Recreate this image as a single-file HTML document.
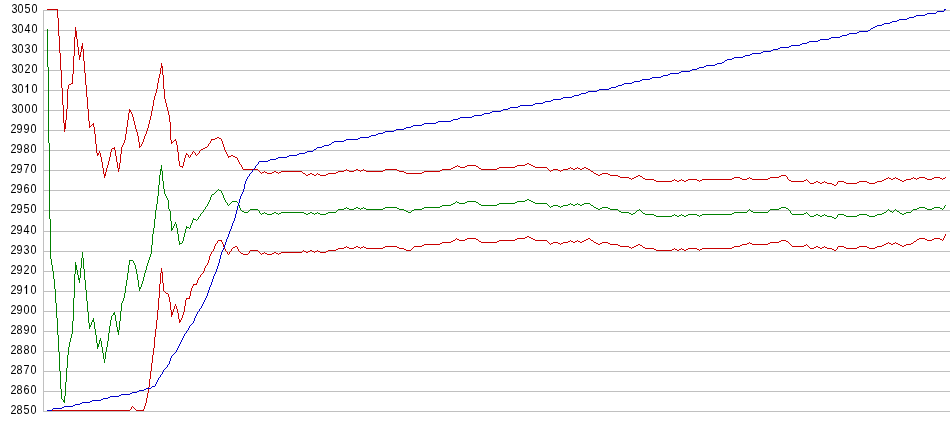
<!DOCTYPE html><html><head><meta charset="utf-8"><style>html,body{margin:0;padding:0;background:#fff;width:950px;height:435px;overflow:hidden}svg{display:block}</style></head><body>
<svg width="950" height="435" viewBox="0 0 950 435">
<rect width="950" height="435" fill="#fff"/>
<path d="M43 10.5H950 M43 30.5H950 M43 50.5H950 M43 70.5H950 M43 90.5H950 M43 110.5H950 M43 130.5H950 M43 150.5H950 M43 170.5H950 M43 190.5H950 M43 210.5H950 M43 231.5H950 M43 251.5H950 M43 271.5H950 M43 291.5H950 M43 311.5H950 M43 331.5H950 M43 351.5H950 M43 371.5H950 M43 391.5H950 M43 411.5H950 M43.5 10V412" stroke="#c0c0c0" stroke-width="1" fill="none" shape-rendering="crispEdges"/>
<g font-family="Liberation Sans, sans-serif" font-size="12" fill="#000" text-anchor="middle" style="will-change:transform">
<text transform="scale(0.9,1)" x="16.111 22.778 30.556 38.333" y="13">3050</text>
<text transform="scale(0.9,1)" x="16.111 22.778 30.556 38.333" y="33">3040</text>
<text transform="scale(0.9,1)" x="16.111 22.778 30.556 38.333" y="53">3030</text>
<text transform="scale(0.9,1)" x="16.111 22.778 30.556 38.333" y="73">3020</text>
<text transform="scale(0.9,1)" x="16.111 22.778 30.556 38.333" y="93">30 0</text>
<text transform="scale(0.9,1)" x="16.111 22.778 30.556 38.333" y="113">3000</text>
<text transform="scale(0.9,1)" x="15.000 21.667 29.444 37.222" y="133">2990</text>
<text transform="scale(0.9,1)" x="15.000 21.667 29.444 37.222" y="153">2980</text>
<text transform="scale(0.9,1)" x="15.000 21.667 29.444 37.222" y="173">2970</text>
<text transform="scale(0.9,1)" x="15.000 21.667 29.444 37.222" y="193">2960</text>
<text transform="scale(0.9,1)" x="15.000 21.667 29.444 37.222" y="213">2950</text>
<text transform="scale(0.9,1)" x="15.000 21.667 29.444 37.222" y="234">2940</text>
<text transform="scale(0.9,1)" x="15.000 21.667 29.444 37.222" y="254">2930</text>
<text transform="scale(0.9,1)" x="15.000 21.667 29.444 37.222" y="274">2920</text>
<text transform="scale(0.9,1)" x="15.000 21.667 29.444 37.222" y="294">29 0</text>
<text transform="scale(0.9,1)" x="15.000 21.667 29.444 37.222" y="314">2900</text>
<text transform="scale(0.9,1)" x="15.000 21.667 29.444 37.222" y="334">2890</text>
<text transform="scale(0.9,1)" x="15.000 21.667 29.444 37.222" y="354">2880</text>
<text transform="scale(0.9,1)" x="15.000 21.667 29.444 37.222" y="374">2870</text>
<text transform="scale(0.9,1)" x="15.000 21.667 29.444 37.222" y="394">2860</text>
<text transform="scale(0.9,1)" x="15.000 21.667 29.444 37.222" y="414">2850</text>
<path d="M26.95 84h1.15v9h-1.15z M25.3 86.8L27.4 84.7l0.5 0.75L25.8 87.5z M25.95 285h1.15v9h-1.15z M24.3 287.8L26.4 285.7l0.5 0.75L24.8 288.5z" fill="#000"/>
</g>
<g shape-rendering="crispEdges">
<path fill="#c80000" d="M945 234h1v1h-1zM945 235h1v1h-1zM527 236h2v1h-2zM944 236h1v1h-1zM525 237h2v1h-2zM529 237h2v1h-2zM944 237h1v1h-1zM456 238h1v1h-1zM467 238h9v1h-9zM517 238h8v1h-8zM531 238h2v1h-2zM588 238h2v1h-2zM919 238h6v1h-6zM934 238h6v1h-6zM943 238h1v1h-1zM455 239h1v1h-1zM457 239h2v1h-2zM465 239h2v1h-2zM476 239h2v1h-2zM515 239h2v1h-2zM533 239h2v1h-2zM586 239h2v1h-2zM590 239h1v1h-1zM917 239h2v1h-2zM925 239h2v1h-2zM932 239h2v1h-2zM940 239h2v1h-2zM943 239h1v1h-1zM218 240h4v1h-4zM453 240h2v1h-2zM459 240h6v1h-6zM478 240h1v1h-1zM499 240h16v1h-16zM535 240h12v1h-12zM570 240h1v1h-1zM577 240h1v1h-1zM584 240h2v1h-2zM591 240h2v1h-2zM781 240h5v1h-5zM916 240h1v1h-1zM927 240h5v1h-5zM942 240h1v1h-1zM217 241h1v1h-1zM221 241h1v1h-1zM451 241h2v1h-2zM479 241h2v1h-2zM497 241h2v1h-2zM547 241h1v1h-1zM568 241h2v1h-2zM571 241h2v1h-2zM575 241h2v1h-2zM578 241h2v1h-2zM582 241h2v1h-2zM593 241h1v1h-1zM779 241h2v1h-2zM786 241h2v1h-2zM914 241h2v1h-2zM217 242h1v1h-1zM222 242h1v1h-1zM442 242h9v1h-9zM481 242h16v1h-16zM548 242h1v1h-1zM553 242h5v1h-5zM563 242h5v1h-5zM573 242h2v1h-2zM580 242h2v1h-2zM594 242h2v1h-2zM602 242h6v1h-6zM749 242h1v1h-1zM770 242h9v1h-9zM788 242h1v1h-1zM888 242h1v1h-1zM895 242h1v1h-1zM913 242h1v1h-1zM216 243h1v1h-1zM222 243h1v1h-1zM440 243h2v1h-2zM549 243h1v1h-1zM551 243h2v1h-2zM558 243h2v1h-2zM561 243h2v1h-2zM596 243h2v1h-2zM600 243h2v1h-2zM608 243h2v1h-2zM747 243h2v1h-2zM750 243h2v1h-2zM768 243h2v1h-2zM789 243h1v1h-1zM886 243h2v1h-2zM889 243h2v1h-2zM893 243h2v1h-2zM896 243h2v1h-2zM911 243h2v1h-2zM215 244h1v1h-1zM223 244h1v1h-1zM424 244h16v1h-16zM550 244h1v1h-1zM560 244h1v1h-1zM598 244h2v1h-2zM610 244h8v1h-8zM638 244h2v1h-2zM742 244h5v1h-5zM752 244h16v1h-16zM790 244h1v1h-1zM806 244h1v1h-1zM884 244h2v1h-2zM891 244h2v1h-2zM898 244h2v1h-2zM906 244h5v1h-5zM215 245h1v1h-1zM223 245h1v1h-1zM422 245h2v1h-2zM618 245h2v1h-2zM636 245h2v1h-2zM640 245h2v1h-2zM740 245h2v1h-2zM791 245h1v1h-1zM804 245h2v1h-2zM807 245h1v1h-1zM882 245h2v1h-2zM900 245h2v1h-2zM904 245h2v1h-2zM214 246h1v1h-1zM223 246h1v1h-1zM235 246h2v1h-2zM346 246h1v1h-1zM356 246h2v1h-2zM363 246h1v1h-1zM385 246h12v1h-12zM414 246h8v1h-8zM620 246h9v1h-9zM634 246h2v1h-2zM642 246h1v1h-1zM734 246h6v1h-6zM792 246h12v1h-12zM808 246h1v1h-1zM816 246h2v1h-2zM824 246h1v1h-1zM838 246h6v1h-6zM859 246h8v1h-8zM877 246h5v1h-5zM902 246h2v1h-2zM214 247h1v1h-1zM224 247h1v1h-1zM233 247h2v1h-2zM237 247h1v1h-1zM344 247h2v1h-2zM347 247h2v1h-2zM354 247h2v1h-2zM358 247h2v1h-2zM361 247h2v1h-2zM364 247h2v1h-2zM383 247h2v1h-2zM397 247h2v1h-2zM413 247h1v1h-1zM629 247h2v1h-2zM632 247h2v1h-2zM643 247h2v1h-2zM732 247h2v1h-2zM809 247h1v1h-1zM814 247h2v1h-2zM818 247h2v1h-2zM822 247h2v1h-2zM825 247h2v1h-2zM837 247h1v1h-1zM844 247h2v1h-2zM857 247h2v1h-2zM867 247h2v1h-2zM875 247h2v1h-2zM214 248h1v1h-1zM224 248h1v1h-1zM232 248h1v1h-1zM237 248h1v1h-1zM338 248h6v1h-6zM349 248h5v1h-5zM360 248h1v1h-1zM366 248h17v1h-17zM399 248h5v1h-5zM412 248h1v1h-1zM631 248h1v1h-1zM645 248h9v1h-9zM674 248h1v1h-1zM681 248h1v1h-1zM688 248h9v1h-9zM702 248h30v1h-30zM810 248h4v1h-4zM820 248h2v1h-2zM827 248h5v1h-5zM837 248h1v1h-1zM846 248h11v1h-11zM869 248h6v1h-6zM213 249h1v1h-1zM225 249h1v1h-1zM231 249h1v1h-1zM238 249h1v1h-1zM336 249h2v1h-2zM404 249h2v1h-2zM411 249h1v1h-1zM654 249h2v1h-2zM672 249h2v1h-2zM675 249h2v1h-2zM679 249h2v1h-2zM682 249h2v1h-2zM686 249h2v1h-2zM697 249h2v1h-2zM700 249h2v1h-2zM832 249h2v1h-2zM836 249h1v1h-1zM213 250h1v1h-1zM225 250h1v1h-1zM231 250h1v1h-1zM238 250h1v1h-1zM250 250h8v1h-8zM303 250h1v1h-1zM310 250h2v1h-2zM317 250h1v1h-1zM328 250h8v1h-8zM406 250h5v1h-5zM656 250h16v1h-16zM677 250h2v1h-2zM684 250h2v1h-2zM699 250h1v1h-1zM834 250h2v1h-2zM212 251h1v1h-1zM226 251h1v1h-1zM230 251h1v1h-1zM239 251h1v1h-1zM249 251h1v1h-1zM258 251h1v1h-1zM302 251h1v1h-1zM304 251h2v1h-2zM308 251h2v1h-2zM312 251h2v1h-2zM315 251h2v1h-2zM318 251h2v1h-2zM326 251h2v1h-2zM211 252h1v1h-1zM227 252h1v1h-1zM229 252h1v1h-1zM240 252h1v1h-1zM249 252h1v1h-1zM259 252h1v1h-1zM264 252h1v1h-1zM274 252h2v1h-2zM281 252h21v1h-21zM306 252h2v1h-2zM314 252h1v1h-1zM320 252h6v1h-6zM211 253h1v1h-1zM227 253h1v1h-1zM229 253h1v1h-1zM241 253h2v1h-2zM248 253h1v1h-1zM260 253h1v1h-1zM262 253h2v1h-2zM265 253h2v1h-2zM272 253h2v1h-2zM276 253h2v1h-2zM279 253h2v1h-2zM210 254h1v1h-1zM228 254h1v1h-1zM243 254h5v1h-5zM261 254h1v1h-1zM267 254h5v1h-5zM278 254h1v1h-1zM210 255h1v1h-1zM209 256h1v1h-1zM209 257h1v1h-1zM209 258h1v1h-1zM209 259h1v1h-1zM208 260h1v1h-1zM208 261h1v1h-1zM208 262h1v1h-1zM207 263h1v1h-1zM207 264h1v1h-1zM206 265h1v1h-1zM205 266h1v1h-1zM205 267h1v1h-1zM161 268h1v1h-1zM204 268h1v1h-1zM161 269h1v1h-1zM204 269h1v1h-1zM161 270h1v1h-1zM204 270h1v1h-1zM161 271h1v1h-1zM203 271h1v1h-1zM161 272h2v1h-2zM203 272h1v1h-1zM160 273h1v1h-1zM162 273h1v1h-1zM202 273h1v1h-1zM160 274h1v1h-1zM162 274h1v1h-1zM201 274h1v1h-1zM160 275h1v1h-1zM162 275h1v1h-1zM200 275h1v1h-1zM160 276h1v1h-1zM162 276h1v1h-1zM200 276h1v1h-1zM160 277h1v1h-1zM162 277h1v1h-1zM199 277h1v1h-1zM160 278h1v1h-1zM162 278h1v1h-1zM198 278h1v1h-1zM160 279h1v1h-1zM162 279h1v1h-1zM198 279h1v1h-1zM160 280h1v1h-1zM162 280h1v1h-1zM197 280h1v1h-1zM160 281h1v1h-1zM162 281h1v1h-1zM197 281h1v1h-1zM160 282h1v1h-1zM162 282h1v1h-1zM197 282h1v1h-1zM160 283h1v1h-1zM163 283h1v1h-1zM196 283h1v1h-1zM159 284h1v1h-1zM163 284h1v1h-1zM193 284h4v1h-4zM159 285h1v1h-1zM163 285h1v1h-1zM193 285h1v1h-1zM159 286h1v1h-1zM163 286h1v1h-1zM192 286h1v1h-1zM159 287h1v1h-1zM163 287h1v1h-1zM192 287h1v1h-1zM159 288h1v1h-1zM163 288h1v1h-1zM191 288h1v1h-1zM159 289h1v1h-1zM163 289h1v1h-1zM191 289h1v1h-1zM159 290h1v1h-1zM163 290h1v1h-1zM191 290h1v1h-1zM159 291h1v1h-1zM164 291h1v1h-1zM190 291h1v1h-1zM159 292h1v1h-1zM165 292h1v1h-1zM190 292h1v1h-1zM159 293h1v1h-1zM166 293h2v1h-2zM190 293h1v1h-1zM159 294h1v1h-1zM168 294h1v1h-1zM190 294h1v1h-1zM159 295h1v1h-1zM168 295h1v1h-1zM190 295h1v1h-1zM159 296h1v1h-1zM168 296h1v1h-1zM189 296h1v1h-1zM159 297h1v1h-1zM169 297h1v1h-1zM189 297h1v1h-1zM158 298h1v1h-1zM169 298h1v1h-1zM186 298h4v1h-4zM158 299h1v1h-1zM169 299h1v1h-1zM186 299h1v1h-1zM158 300h1v1h-1zM169 300h1v1h-1zM185 300h1v1h-1zM158 301h1v1h-1zM169 301h1v1h-1zM185 301h1v1h-1zM158 302h1v1h-1zM170 302h1v1h-1zM185 302h1v1h-1zM158 303h1v1h-1zM170 303h1v1h-1zM185 303h1v1h-1zM158 304h1v1h-1zM170 304h1v1h-1zM175 304h1v1h-1zM185 304h1v1h-1zM158 305h1v1h-1zM170 305h1v1h-1zM175 305h1v1h-1zM185 305h1v1h-1zM158 306h1v1h-1zM170 306h1v1h-1zM174 306h1v1h-1zM176 306h1v1h-1zM184 306h1v1h-1zM158 307h1v1h-1zM170 307h1v1h-1zM174 307h1v1h-1zM176 307h1v1h-1zM184 307h1v1h-1zM158 308h1v1h-1zM170 308h1v1h-1zM174 308h1v1h-1zM176 308h1v1h-1zM184 308h1v1h-1zM158 309h1v1h-1zM170 309h1v1h-1zM173 309h1v1h-1zM177 309h1v1h-1zM184 309h1v1h-1zM157 310h1v1h-1zM171 310h1v1h-1zM173 310h1v1h-1zM177 310h1v1h-1zM184 310h1v1h-1zM157 311h1v1h-1zM171 311h1v1h-1zM173 311h1v1h-1zM177 311h1v1h-1zM184 311h1v1h-1zM157 312h1v1h-1zM171 312h2v1h-2zM177 312h1v1h-1zM183 312h1v1h-1zM157 313h1v1h-1zM171 313h2v1h-2zM178 313h1v1h-1zM183 313h1v1h-1zM157 314h1v1h-1zM171 314h2v1h-2zM178 314h1v1h-1zM183 314h1v1h-1zM157 315h1v1h-1zM171 315h1v1h-1zM178 315h1v1h-1zM182 315h1v1h-1zM157 316h1v1h-1zM171 316h1v1h-1zM178 316h1v1h-1zM182 316h1v1h-1zM157 317h1v1h-1zM178 317h1v1h-1zM182 317h1v1h-1zM157 318h1v1h-1zM178 318h1v1h-1zM181 318h1v1h-1zM157 319h1v1h-1zM179 319h1v1h-1zM181 319h1v1h-1zM156 320h1v1h-1zM179 320h2v1h-2zM156 321h1v1h-1zM179 321h2v1h-2zM156 322h1v1h-1zM179 322h1v1h-1zM156 323h1v1h-1zM156 324h1v1h-1zM156 325h1v1h-1zM156 326h1v1h-1zM156 327h1v1h-1zM156 328h1v1h-1zM155 329h1v1h-1zM155 330h1v1h-1zM155 331h1v1h-1zM155 332h1v1h-1zM155 333h1v1h-1zM155 334h1v1h-1zM155 335h1v1h-1zM155 336h1v1h-1zM154 337h1v1h-1zM154 338h1v1h-1zM154 339h1v1h-1zM154 340h1v1h-1zM154 341h1v1h-1zM154 342h1v1h-1zM154 343h1v1h-1zM154 344h1v1h-1zM154 345h1v1h-1zM154 346h1v1h-1zM154 347h1v1h-1zM153 348h1v1h-1zM153 349h1v1h-1zM153 350h1v1h-1zM153 351h1v1h-1zM153 352h1v1h-1zM153 353h1v1h-1zM153 354h1v1h-1zM152 355h1v1h-1zM152 356h1v1h-1zM152 357h1v1h-1zM152 358h1v1h-1zM152 359h1v1h-1zM152 360h1v1h-1zM152 361h1v1h-1zM152 362h1v1h-1zM151 363h1v1h-1zM151 364h1v1h-1zM151 365h1v1h-1zM151 366h1v1h-1zM151 367h1v1h-1zM151 368h1v1h-1zM151 369h1v1h-1zM151 370h1v1h-1zM150 371h1v1h-1zM150 372h1v1h-1zM150 373h1v1h-1zM150 374h1v1h-1zM150 375h1v1h-1zM150 376h1v1h-1zM150 377h1v1h-1zM150 378h1v1h-1zM149 379h1v1h-1zM149 380h1v1h-1zM149 381h1v1h-1zM149 382h1v1h-1zM149 383h1v1h-1zM149 384h1v1h-1zM149 385h1v1h-1zM149 386h1v1h-1zM148 387h1v1h-1zM148 388h1v1h-1zM148 389h1v1h-1zM148 390h1v1h-1zM148 391h1v1h-1zM148 392h1v1h-1zM147 393h1v1h-1zM147 394h1v1h-1zM147 395h1v1h-1zM147 396h1v1h-1zM147 397h1v1h-1zM146 398h1v1h-1zM146 399h1v1h-1zM146 400h1v1h-1zM146 401h1v1h-1zM146 402h1v1h-1zM145 403h1v1h-1zM145 404h1v1h-1zM145 405h1v1h-1zM132 406h1v1h-1zM144 406h1v1h-1zM131 407h1v1h-1zM133 407h1v1h-1zM144 407h1v1h-1zM131 408h1v1h-1zM134 408h1v1h-1zM144 408h1v1h-1zM130 409h1v1h-1zM135 409h1v1h-1zM143 409h1v1h-1zM49 410h81v1h-81zM136 410h8v1h-8z"/>
<path fill="#008000" d="M47 29h1v1h-1zM47 30h1v1h-1zM47 31h1v1h-1zM47 32h1v1h-1zM47 33h1v1h-1zM47 34h1v1h-1zM47 35h1v1h-1zM47 36h1v1h-1zM47 37h1v1h-1zM47 38h1v1h-1zM47 39h1v1h-1zM47 40h1v1h-1zM47 41h1v1h-1zM47 42h1v1h-1zM47 43h1v1h-1zM47 44h1v1h-1zM47 45h1v1h-1zM47 46h1v1h-1zM47 47h1v1h-1zM47 48h1v1h-1zM47 49h1v1h-1zM47 50h1v1h-1zM47 51h1v1h-1zM47 52h1v1h-1zM47 53h1v1h-1zM47 54h1v1h-1zM47 55h1v1h-1zM47 56h1v1h-1zM47 57h1v1h-1zM47 58h1v1h-1zM47 59h1v1h-1zM47 60h1v1h-1zM47 61h1v1h-1zM47 62h1v1h-1zM47 63h1v1h-1zM47 64h1v1h-1zM47 65h1v1h-1zM47 66h1v1h-1zM48 67h1v1h-1zM48 68h1v1h-1zM48 69h1v1h-1zM48 70h1v1h-1zM48 71h1v1h-1zM48 72h1v1h-1zM48 73h1v1h-1zM48 74h1v1h-1zM48 75h1v1h-1zM48 76h1v1h-1zM48 77h1v1h-1zM48 78h1v1h-1zM48 79h1v1h-1zM48 80h1v1h-1zM48 81h1v1h-1zM48 82h1v1h-1zM48 83h1v1h-1zM48 84h1v1h-1zM48 85h1v1h-1zM48 86h1v1h-1zM48 87h1v1h-1zM48 88h1v1h-1zM48 89h1v1h-1zM48 90h1v1h-1zM48 91h1v1h-1zM48 92h1v1h-1zM48 93h1v1h-1zM48 94h1v1h-1zM48 95h1v1h-1zM48 96h1v1h-1zM48 97h1v1h-1zM48 98h1v1h-1zM48 99h1v1h-1zM48 100h1v1h-1zM48 101h1v1h-1zM48 102h1v1h-1zM48 103h1v1h-1zM48 104h1v1h-1zM48 105h1v1h-1zM48 106h1v1h-1zM48 107h1v1h-1zM48 108h1v1h-1zM48 109h1v1h-1zM48 110h1v1h-1zM48 111h1v1h-1zM48 112h1v1h-1zM48 113h1v1h-1zM48 114h1v1h-1zM48 115h1v1h-1zM48 116h1v1h-1zM48 117h1v1h-1zM48 118h1v1h-1zM48 119h1v1h-1zM48 120h1v1h-1zM48 121h1v1h-1zM48 122h1v1h-1zM48 123h1v1h-1zM48 124h1v1h-1zM48 125h1v1h-1zM48 126h1v1h-1zM48 127h1v1h-1zM48 128h1v1h-1zM48 129h1v1h-1zM48 130h1v1h-1zM48 131h1v1h-1zM48 132h1v1h-1zM48 133h1v1h-1zM48 134h1v1h-1zM48 135h1v1h-1zM48 136h1v1h-1zM48 137h1v1h-1zM48 138h1v1h-1zM48 139h1v1h-1zM48 140h1v1h-1zM48 141h1v1h-1zM48 142h1v1h-1zM49 143h1v1h-1zM49 144h1v1h-1zM49 145h1v1h-1zM49 146h1v1h-1zM49 147h1v1h-1zM49 148h1v1h-1zM49 149h1v1h-1zM49 150h1v1h-1zM49 151h1v1h-1zM49 152h1v1h-1zM49 153h1v1h-1zM49 154h1v1h-1zM49 155h1v1h-1zM49 156h1v1h-1zM49 157h1v1h-1zM49 158h1v1h-1zM49 159h1v1h-1zM49 160h1v1h-1zM49 161h1v1h-1zM49 162h1v1h-1zM49 163h1v1h-1zM49 164h1v1h-1zM49 165h1v1h-1zM161 165h1v1h-1zM49 166h1v1h-1zM161 166h1v1h-1zM49 167h1v1h-1zM161 167h1v1h-1zM49 168h1v1h-1zM161 168h1v1h-1zM49 169h1v1h-1zM160 169h2v1h-2zM49 170h1v1h-1zM160 170h2v1h-2zM49 171h1v1h-1zM160 171h1v1h-1zM162 171h1v1h-1zM49 172h1v1h-1zM160 172h1v1h-1zM162 172h1v1h-1zM49 173h1v1h-1zM160 173h1v1h-1zM162 173h1v1h-1zM49 174h1v1h-1zM160 174h1v1h-1zM162 174h1v1h-1zM49 175h1v1h-1zM159 175h1v1h-1zM162 175h1v1h-1zM49 176h1v1h-1zM159 176h1v1h-1zM162 176h1v1h-1zM49 177h1v1h-1zM159 177h1v1h-1zM162 177h1v1h-1zM49 178h1v1h-1zM159 178h1v1h-1zM162 178h1v1h-1zM49 179h1v1h-1zM159 179h1v1h-1zM162 179h1v1h-1zM49 180h1v1h-1zM159 180h1v1h-1zM162 180h1v1h-1zM49 181h1v1h-1zM159 181h1v1h-1zM163 181h1v1h-1zM49 182h1v1h-1zM159 182h1v1h-1zM163 182h1v1h-1zM49 183h1v1h-1zM159 183h1v1h-1zM163 183h1v1h-1zM49 184h1v1h-1zM159 184h1v1h-1zM163 184h1v1h-1zM49 185h1v1h-1zM158 185h1v1h-1zM163 185h1v1h-1zM49 186h1v1h-1zM158 186h1v1h-1zM163 186h1v1h-1zM49 187h1v1h-1zM158 187h1v1h-1zM163 187h1v1h-1zM49 188h1v1h-1zM158 188h1v1h-1zM163 188h1v1h-1zM49 189h1v1h-1zM158 189h1v1h-1zM164 189h1v1h-1zM218 189h1v1h-1zM49 190h1v1h-1zM158 190h1v1h-1zM164 190h1v1h-1zM217 190h1v1h-1zM219 190h2v1h-2zM49 191h1v1h-1zM158 191h1v1h-1zM164 191h1v1h-1zM216 191h1v1h-1zM221 191h1v1h-1zM49 192h1v1h-1zM158 192h1v1h-1zM164 192h1v1h-1zM215 192h1v1h-1zM221 192h1v1h-1zM49 193h1v1h-1zM158 193h1v1h-1zM164 193h1v1h-1zM214 193h1v1h-1zM222 193h1v1h-1zM49 194h1v1h-1zM158 194h1v1h-1zM165 194h1v1h-1zM212 194h2v1h-2zM222 194h1v1h-1zM49 195h1v1h-1zM158 195h1v1h-1zM165 195h1v1h-1zM211 195h1v1h-1zM223 195h1v1h-1zM49 196h1v1h-1zM157 196h1v1h-1zM166 196h1v1h-1zM211 196h1v1h-1zM223 196h1v1h-1zM49 197h1v1h-1zM157 197h1v1h-1zM166 197h1v1h-1zM210 197h1v1h-1zM223 197h1v1h-1zM49 198h1v1h-1zM157 198h1v1h-1zM167 198h1v1h-1zM210 198h1v1h-1zM224 198h1v1h-1zM49 199h1v1h-1zM157 199h1v1h-1zM167 199h1v1h-1zM210 199h1v1h-1zM224 199h1v1h-1zM527 199h2v1h-2zM49 200h1v1h-1zM157 200h1v1h-1zM168 200h1v1h-1zM209 200h1v1h-1zM225 200h1v1h-1zM525 200h2v1h-2zM529 200h2v1h-2zM49 201h1v1h-1zM157 201h1v1h-1zM168 201h1v1h-1zM209 201h1v1h-1zM225 201h1v1h-1zM232 201h5v1h-5zM456 201h1v1h-1zM467 201h9v1h-9zM517 201h8v1h-8zM531 201h2v1h-2zM49 202h1v1h-1zM157 202h1v1h-1zM168 202h1v1h-1zM208 202h1v1h-1zM226 202h1v1h-1zM231 202h1v1h-1zM237 202h1v1h-1zM455 202h1v1h-1zM457 202h2v1h-2zM465 202h2v1h-2zM476 202h2v1h-2zM515 202h2v1h-2zM533 202h2v1h-2zM49 203h1v1h-1zM157 203h1v1h-1zM168 203h1v1h-1zM208 203h1v1h-1zM227 203h1v1h-1zM230 203h1v1h-1zM238 203h1v1h-1zM453 203h2v1h-2zM459 203h6v1h-6zM478 203h1v1h-1zM499 203h16v1h-16zM535 203h12v1h-12zM570 203h1v1h-1zM577 203h1v1h-1zM584 203h6v1h-6zM49 204h1v1h-1zM156 204h1v1h-1zM168 204h1v1h-1zM207 204h1v1h-1zM227 204h1v1h-1zM229 204h1v1h-1zM238 204h1v1h-1zM451 204h2v1h-2zM479 204h2v1h-2zM497 204h2v1h-2zM547 204h1v1h-1zM568 204h2v1h-2zM571 204h2v1h-2zM575 204h2v1h-2zM578 204h2v1h-2zM582 204h2v1h-2zM590 204h1v1h-1zM49 205h1v1h-1zM156 205h1v1h-1zM168 205h1v1h-1zM207 205h1v1h-1zM228 205h1v1h-1zM239 205h1v1h-1zM442 205h9v1h-9zM481 205h16v1h-16zM548 205h1v1h-1zM553 205h5v1h-5zM563 205h5v1h-5zM573 205h2v1h-2zM580 205h2v1h-2zM591 205h2v1h-2zM945 205h1v1h-1zM49 206h1v1h-1zM156 206h1v1h-1zM168 206h1v1h-1zM206 206h1v1h-1zM239 206h1v1h-1zM440 206h2v1h-2zM549 206h1v1h-1zM551 206h2v1h-2zM558 206h2v1h-2zM561 206h2v1h-2zM593 206h1v1h-1zM944 206h1v1h-1zM49 207h1v1h-1zM156 207h1v1h-1zM168 207h1v1h-1zM205 207h1v1h-1zM239 207h1v1h-1zM346 207h1v1h-1zM356 207h2v1h-2zM363 207h1v1h-1zM385 207h12v1h-12zM424 207h16v1h-16zM550 207h1v1h-1zM560 207h1v1h-1zM594 207h2v1h-2zM602 207h6v1h-6zM781 207h5v1h-5zM919 207h6v1h-6zM934 207h6v1h-6zM944 207h1v1h-1zM49 208h1v1h-1zM156 208h1v1h-1zM168 208h1v1h-1zM205 208h1v1h-1zM240 208h1v1h-1zM344 208h2v1h-2zM347 208h2v1h-2zM354 208h2v1h-2zM358 208h2v1h-2zM361 208h2v1h-2zM364 208h2v1h-2zM383 208h2v1h-2zM397 208h2v1h-2zM422 208h2v1h-2zM596 208h2v1h-2zM600 208h2v1h-2zM608 208h2v1h-2zM779 208h2v1h-2zM786 208h2v1h-2zM917 208h2v1h-2zM925 208h2v1h-2zM932 208h2v1h-2zM940 208h2v1h-2zM943 208h1v1h-1zM49 209h1v1h-1zM156 209h1v1h-1zM169 209h1v1h-1zM204 209h1v1h-1zM240 209h1v1h-1zM250 209h8v1h-8zM338 209h6v1h-6zM349 209h5v1h-5zM360 209h1v1h-1zM366 209h17v1h-17zM399 209h5v1h-5zM414 209h8v1h-8zM598 209h2v1h-2zM610 209h8v1h-8zM639 209h1v1h-1zM749 209h1v1h-1zM770 209h9v1h-9zM788 209h1v1h-1zM888 209h1v1h-1zM895 209h1v1h-1zM913 209h4v1h-4zM927 209h5v1h-5zM942 209h1v1h-1zM49 210h1v1h-1zM155 210h1v1h-1zM169 210h1v1h-1zM203 210h1v1h-1zM241 210h1v1h-1zM249 210h1v1h-1zM258 210h1v1h-1zM337 210h1v1h-1zM404 210h2v1h-2zM412 210h2v1h-2zM618 210h1v1h-1zM637 210h2v1h-2zM640 210h1v1h-1zM748 210h1v1h-1zM750 210h1v1h-1zM769 210h1v1h-1zM789 210h1v1h-1zM887 210h1v1h-1zM889 210h1v1h-1zM894 210h1v1h-1zM896 210h1v1h-1zM912 210h1v1h-1zM49 211h1v1h-1zM155 211h1v1h-1zM170 211h1v1h-1zM203 211h1v1h-1zM242 211h2v1h-2zM248 211h1v1h-1zM259 211h1v1h-1zM336 211h1v1h-1zM406 211h2v1h-2zM411 211h1v1h-1zM619 211h2v1h-2zM636 211h1v1h-1zM641 211h1v1h-1zM747 211h1v1h-1zM751 211h2v1h-2zM768 211h1v1h-1zM790 211h1v1h-1zM886 211h1v1h-1zM890 211h2v1h-2zM893 211h1v1h-1zM897 211h2v1h-2zM911 211h1v1h-1zM49 212h1v1h-1zM155 212h1v1h-1zM170 212h1v1h-1zM202 212h1v1h-1zM244 212h4v1h-4zM259 212h1v1h-1zM264 212h1v1h-1zM274 212h2v1h-2zM281 212h23v1h-23zM310 212h2v1h-2zM317 212h1v1h-1zM328 212h8v1h-8zM408 212h3v1h-3zM621 212h8v1h-8zM635 212h1v1h-1zM642 212h1v1h-1zM734 212h13v1h-13zM753 212h15v1h-15zM790 212h1v1h-1zM806 212h1v1h-1zM884 212h2v1h-2zM892 212h1v1h-1zM899 212h1v1h-1zM906 212h5v1h-5zM49 213h1v1h-1zM155 213h1v1h-1zM170 213h1v1h-1zM201 213h1v1h-1zM260 213h1v1h-1zM262 213h2v1h-2zM265 213h2v1h-2zM272 213h2v1h-2zM276 213h2v1h-2zM279 213h2v1h-2zM304 213h2v1h-2zM308 213h2v1h-2zM312 213h2v1h-2zM315 213h2v1h-2zM318 213h2v1h-2zM326 213h2v1h-2zM629 213h2v1h-2zM633 213h2v1h-2zM643 213h2v1h-2zM732 213h2v1h-2zM791 213h1v1h-1zM804 213h2v1h-2zM807 213h1v1h-1zM882 213h2v1h-2zM900 213h2v1h-2zM904 213h2v1h-2zM49 214h1v1h-1zM155 214h1v1h-1zM170 214h1v1h-1zM200 214h1v1h-1zM261 214h1v1h-1zM267 214h5v1h-5zM278 214h1v1h-1zM306 214h2v1h-2zM314 214h1v1h-1zM320 214h6v1h-6zM631 214h2v1h-2zM645 214h9v1h-9zM674 214h1v1h-1zM681 214h1v1h-1zM688 214h9v1h-9zM702 214h30v1h-30zM792 214h12v1h-12zM808 214h1v1h-1zM816 214h2v1h-2zM824 214h1v1h-1zM838 214h6v1h-6zM859 214h8v1h-8zM877 214h5v1h-5zM902 214h2v1h-2zM49 215h1v1h-1zM155 215h1v1h-1zM170 215h1v1h-1zM200 215h1v1h-1zM654 215h2v1h-2zM672 215h2v1h-2zM675 215h2v1h-2zM679 215h2v1h-2zM682 215h2v1h-2zM686 215h2v1h-2zM697 215h2v1h-2zM700 215h2v1h-2zM809 215h1v1h-1zM814 215h2v1h-2zM818 215h2v1h-2zM822 215h2v1h-2zM825 215h2v1h-2zM837 215h1v1h-1zM844 215h2v1h-2zM857 215h2v1h-2zM867 215h2v1h-2zM875 215h2v1h-2zM49 216h1v1h-1zM155 216h1v1h-1zM170 216h1v1h-1zM199 216h1v1h-1zM656 216h16v1h-16zM677 216h2v1h-2zM684 216h2v1h-2zM699 216h1v1h-1zM810 216h4v1h-4zM820 216h2v1h-2zM827 216h5v1h-5zM837 216h1v1h-1zM846 216h11v1h-11zM869 216h6v1h-6zM49 217h1v1h-1zM155 217h1v1h-1zM170 217h1v1h-1zM198 217h1v1h-1zM832 217h2v1h-2zM836 217h1v1h-1zM49 218h1v1h-1zM155 218h1v1h-1zM170 218h1v1h-1zM193 218h1v1h-1zM198 218h1v1h-1zM834 218h2v1h-2zM50 219h1v1h-1zM154 219h1v1h-1zM170 219h1v1h-1zM193 219h3v1h-3zM197 219h1v1h-1zM50 220h1v1h-1zM154 220h1v1h-1zM170 220h1v1h-1zM192 220h1v1h-1zM196 220h1v1h-1zM50 221h1v1h-1zM154 221h1v1h-1zM171 221h1v1h-1zM192 221h1v1h-1zM50 222h1v1h-1zM154 222h1v1h-1zM171 222h1v1h-1zM175 222h1v1h-1zM192 222h1v1h-1zM50 223h1v1h-1zM154 223h1v1h-1zM171 223h1v1h-1zM175 223h1v1h-1zM191 223h1v1h-1zM50 224h1v1h-1zM154 224h1v1h-1zM171 224h1v1h-1zM174 224h1v1h-1zM176 224h1v1h-1zM191 224h1v1h-1zM50 225h1v1h-1zM154 225h1v1h-1zM171 225h1v1h-1zM174 225h1v1h-1zM176 225h1v1h-1zM190 225h1v1h-1zM50 226h1v1h-1zM154 226h1v1h-1zM171 226h1v1h-1zM173 226h1v1h-1zM176 226h1v1h-1zM186 226h1v1h-1zM190 226h1v1h-1zM50 227h1v1h-1zM154 227h1v1h-1zM171 227h1v1h-1zM173 227h1v1h-1zM176 227h1v1h-1zM186 227h3v1h-3zM190 227h1v1h-1zM50 228h1v1h-1zM153 228h1v1h-1zM171 228h2v1h-2zM177 228h1v1h-1zM186 228h1v1h-1zM189 228h1v1h-1zM50 229h1v1h-1zM153 229h1v1h-1zM171 229h2v1h-2zM177 229h1v1h-1zM185 229h1v1h-1zM50 230h1v1h-1zM153 230h1v1h-1zM171 230h1v1h-1zM177 230h1v1h-1zM185 230h1v1h-1zM50 231h1v1h-1zM153 231h1v1h-1zM177 231h1v1h-1zM185 231h1v1h-1zM50 232h1v1h-1zM153 232h1v1h-1zM177 232h1v1h-1zM185 232h1v1h-1zM50 233h1v1h-1zM153 233h1v1h-1zM177 233h1v1h-1zM184 233h1v1h-1zM50 234h1v1h-1zM152 234h1v1h-1zM178 234h1v1h-1zM184 234h1v1h-1zM50 235h1v1h-1zM152 235h1v1h-1zM178 235h1v1h-1zM184 235h1v1h-1zM50 236h1v1h-1zM152 236h1v1h-1zM178 236h1v1h-1zM184 236h1v1h-1zM50 237h1v1h-1zM152 237h1v1h-1zM178 237h1v1h-1zM183 237h1v1h-1zM50 238h1v1h-1zM152 238h1v1h-1zM178 238h1v1h-1zM183 238h1v1h-1zM50 239h1v1h-1zM152 239h1v1h-1zM178 239h1v1h-1zM183 239h1v1h-1zM50 240h1v1h-1zM152 240h1v1h-1zM178 240h1v1h-1zM183 240h1v1h-1zM50 241h1v1h-1zM152 241h1v1h-1zM179 241h1v1h-1zM182 241h1v1h-1zM50 242h1v1h-1zM152 242h1v1h-1zM179 242h1v1h-1zM182 242h1v1h-1zM50 243h1v1h-1zM152 243h1v1h-1zM179 243h3v1h-3zM50 244h1v1h-1zM152 244h1v1h-1zM179 244h1v1h-1zM50 245h1v1h-1zM151 245h1v1h-1zM50 246h1v1h-1zM151 246h1v1h-1zM50 247h1v1h-1zM151 247h1v1h-1zM50 248h1v1h-1zM151 248h1v1h-1zM50 249h1v1h-1zM151 249h1v1h-1zM50 250h1v1h-1zM151 250h1v1h-1zM50 251h1v1h-1zM151 251h1v1h-1zM50 252h1v1h-1zM82 252h1v1h-1zM151 252h1v1h-1zM50 253h1v1h-1zM82 253h1v1h-1zM151 253h1v1h-1zM50 254h1v1h-1zM82 254h1v1h-1zM150 254h1v1h-1zM50 255h1v1h-1zM82 255h1v1h-1zM150 255h1v1h-1zM50 256h1v1h-1zM82 256h1v1h-1zM150 256h1v1h-1zM50 257h1v1h-1zM82 257h1v1h-1zM149 257h1v1h-1zM50 258h1v1h-1zM81 258h1v1h-1zM83 258h1v1h-1zM149 258h1v1h-1zM51 259h1v1h-1zM81 259h1v1h-1zM83 259h1v1h-1zM149 259h1v1h-1zM51 260h1v1h-1zM81 260h1v1h-1zM83 260h1v1h-1zM129 260h4v1h-4zM148 260h1v1h-1zM51 261h1v1h-1zM81 261h1v1h-1zM83 261h1v1h-1zM129 261h1v1h-1zM133 261h1v1h-1zM148 261h1v1h-1zM51 262h1v1h-1zM75 262h1v1h-1zM81 262h1v1h-1zM83 262h1v1h-1zM129 262h1v1h-1zM133 262h1v1h-1zM148 262h1v1h-1zM51 263h1v1h-1zM75 263h1v1h-1zM81 263h1v1h-1zM83 263h1v1h-1zM129 263h1v1h-1zM134 263h1v1h-1zM147 263h1v1h-1zM51 264h1v1h-1zM75 264h1v1h-1zM81 264h1v1h-1zM83 264h1v1h-1zM129 264h1v1h-1zM134 264h1v1h-1zM147 264h1v1h-1zM52 265h1v1h-1zM75 265h2v1h-2zM81 265h1v1h-1zM83 265h1v1h-1zM128 265h1v1h-1zM135 265h1v1h-1zM147 265h1v1h-1zM52 266h1v1h-1zM75 266h2v1h-2zM81 266h1v1h-1zM83 266h1v1h-1zM128 266h1v1h-1zM135 266h1v1h-1zM146 266h1v1h-1zM52 267h1v1h-1zM75 267h2v1h-2zM81 267h1v1h-1zM83 267h1v1h-1zM128 267h1v1h-1zM135 267h1v1h-1zM146 267h1v1h-1zM52 268h1v1h-1zM75 268h2v1h-2zM80 268h1v1h-1zM83 268h1v1h-1zM128 268h1v1h-1zM135 268h1v1h-1zM146 268h1v1h-1zM52 269h1v1h-1zM75 269h2v1h-2zM80 269h1v1h-1zM84 269h1v1h-1zM128 269h1v1h-1zM136 269h1v1h-1zM146 269h1v1h-1zM52 270h1v1h-1zM75 270h1v1h-1zM77 270h1v1h-1zM80 270h1v1h-1zM84 270h1v1h-1zM128 270h1v1h-1zM136 270h1v1h-1zM145 270h1v1h-1zM53 271h1v1h-1zM75 271h1v1h-1zM77 271h1v1h-1zM80 271h1v1h-1zM84 271h1v1h-1zM128 271h1v1h-1zM136 271h1v1h-1zM145 271h1v1h-1zM53 272h1v1h-1zM75 272h1v1h-1zM77 272h1v1h-1zM80 272h1v1h-1zM84 272h1v1h-1zM128 272h1v1h-1zM136 272h1v1h-1zM145 272h1v1h-1zM53 273h1v1h-1zM75 273h1v1h-1zM77 273h1v1h-1zM80 273h1v1h-1zM84 273h1v1h-1zM127 273h1v1h-1zM136 273h1v1h-1zM144 273h1v1h-1zM53 274h1v1h-1zM74 274h1v1h-1zM77 274h1v1h-1zM80 274h1v1h-1zM84 274h1v1h-1zM127 274h1v1h-1zM137 274h1v1h-1zM144 274h1v1h-1zM53 275h1v1h-1zM74 275h1v1h-1zM78 275h1v1h-1zM80 275h1v1h-1zM84 275h1v1h-1zM127 275h1v1h-1zM137 275h1v1h-1zM144 275h1v1h-1zM53 276h1v1h-1zM74 276h1v1h-1zM78 276h1v1h-1zM80 276h1v1h-1zM84 276h1v1h-1zM127 276h1v1h-1zM137 276h1v1h-1zM144 276h1v1h-1zM53 277h1v1h-1zM74 277h1v1h-1zM78 277h1v1h-1zM80 277h1v1h-1zM84 277h1v1h-1zM127 277h1v1h-1zM137 277h1v1h-1zM143 277h1v1h-1zM53 278h1v1h-1zM74 278h1v1h-1zM78 278h2v1h-2zM84 278h1v1h-1zM127 278h1v1h-1zM137 278h1v1h-1zM143 278h1v1h-1zM54 279h1v1h-1zM74 279h1v1h-1zM78 279h2v1h-2zM84 279h1v1h-1zM127 279h1v1h-1zM137 279h1v1h-1zM143 279h1v1h-1zM54 280h1v1h-1zM74 280h1v1h-1zM79 280h1v1h-1zM85 280h1v1h-1zM126 280h1v1h-1zM138 280h1v1h-1zM143 280h1v1h-1zM54 281h1v1h-1zM74 281h1v1h-1zM79 281h1v1h-1zM85 281h1v1h-1zM126 281h1v1h-1zM138 281h1v1h-1zM142 281h1v1h-1zM54 282h1v1h-1zM74 282h1v1h-1zM79 282h1v1h-1zM85 282h1v1h-1zM126 282h1v1h-1zM138 282h1v1h-1zM142 282h1v1h-1zM54 283h1v1h-1zM74 283h1v1h-1zM85 283h1v1h-1zM126 283h1v1h-1zM138 283h1v1h-1zM142 283h1v1h-1zM54 284h1v1h-1zM74 284h1v1h-1zM85 284h1v1h-1zM126 284h1v1h-1zM138 284h1v1h-1zM141 284h1v1h-1zM54 285h1v1h-1zM74 285h1v1h-1zM85 285h1v1h-1zM126 285h1v1h-1zM138 285h1v1h-1zM141 285h1v1h-1zM54 286h1v1h-1zM74 286h1v1h-1zM85 286h1v1h-1zM125 286h1v1h-1zM138 286h1v1h-1zM141 286h1v1h-1zM54 287h1v1h-1zM74 287h1v1h-1zM85 287h1v1h-1zM125 287h1v1h-1zM139 287h2v1h-2zM54 288h1v1h-1zM74 288h1v1h-1zM85 288h1v1h-1zM125 288h1v1h-1zM139 288h2v1h-2zM55 289h1v1h-1zM74 289h1v1h-1zM85 289h1v1h-1zM125 289h1v1h-1zM139 289h1v1h-1zM55 290h1v1h-1zM74 290h1v1h-1zM86 290h1v1h-1zM125 290h1v1h-1zM139 290h1v1h-1zM55 291h1v1h-1zM74 291h1v1h-1zM86 291h1v1h-1zM125 291h1v1h-1zM55 292h1v1h-1zM74 292h1v1h-1zM86 292h1v1h-1zM125 292h1v1h-1zM55 293h1v1h-1zM74 293h1v1h-1zM86 293h1v1h-1zM124 293h1v1h-1zM55 294h1v1h-1zM74 294h1v1h-1zM86 294h1v1h-1zM124 294h1v1h-1zM55 295h1v1h-1zM74 295h1v1h-1zM86 295h1v1h-1zM124 295h1v1h-1zM55 296h1v1h-1zM74 296h1v1h-1zM86 296h1v1h-1zM124 296h1v1h-1zM55 297h1v1h-1zM74 297h1v1h-1zM86 297h1v1h-1zM124 297h1v1h-1zM55 298h1v1h-1zM73 298h1v1h-1zM86 298h1v1h-1zM123 298h1v1h-1zM55 299h1v1h-1zM73 299h1v1h-1zM86 299h1v1h-1zM123 299h1v1h-1zM55 300h1v1h-1zM73 300h1v1h-1zM86 300h1v1h-1zM123 300h1v1h-1zM55 301h1v1h-1zM73 301h1v1h-1zM87 301h1v1h-1zM122 301h1v1h-1zM55 302h1v1h-1zM73 302h1v1h-1zM87 302h1v1h-1zM122 302h1v1h-1zM56 303h1v1h-1zM73 303h1v1h-1zM87 303h1v1h-1zM121 303h1v1h-1zM56 304h1v1h-1zM73 304h1v1h-1zM87 304h1v1h-1zM121 304h1v1h-1zM56 305h1v1h-1zM73 305h1v1h-1zM87 305h1v1h-1zM121 305h1v1h-1zM56 306h1v1h-1zM73 306h1v1h-1zM87 306h1v1h-1zM121 306h1v1h-1zM56 307h1v1h-1zM73 307h1v1h-1zM87 307h1v1h-1zM121 307h1v1h-1zM56 308h1v1h-1zM73 308h1v1h-1zM87 308h1v1h-1zM121 308h1v1h-1zM56 309h1v1h-1zM73 309h1v1h-1zM87 309h1v1h-1zM121 309h1v1h-1zM56 310h1v1h-1zM73 310h1v1h-1zM87 310h1v1h-1zM121 310h1v1h-1zM56 311h1v1h-1zM73 311h1v1h-1zM87 311h1v1h-1zM120 311h1v1h-1zM56 312h1v1h-1zM73 312h1v1h-1zM88 312h1v1h-1zM114 312h1v1h-1zM120 312h1v1h-1zM56 313h1v1h-1zM73 313h1v1h-1zM88 313h1v1h-1zM113 313h2v1h-2zM120 313h1v1h-1zM56 314h1v1h-1zM73 314h1v1h-1zM88 314h1v1h-1zM113 314h2v1h-2zM120 314h1v1h-1zM56 315h1v1h-1zM73 315h1v1h-1zM88 315h1v1h-1zM112 315h1v1h-1zM115 315h1v1h-1zM120 315h1v1h-1zM56 316h1v1h-1zM73 316h1v1h-1zM88 316h1v1h-1zM111 316h1v1h-1zM115 316h1v1h-1zM120 316h1v1h-1zM56 317h1v1h-1zM73 317h1v1h-1zM88 317h1v1h-1zM111 317h1v1h-1zM115 317h1v1h-1zM120 317h1v1h-1zM57 318h1v1h-1zM73 318h1v1h-1zM88 318h1v1h-1zM93 318h1v1h-1zM111 318h1v1h-1zM115 318h1v1h-1zM120 318h1v1h-1zM57 319h1v1h-1zM73 319h1v1h-1zM88 319h1v1h-1zM93 319h1v1h-1zM111 319h1v1h-1zM115 319h1v1h-1zM120 319h1v1h-1zM57 320h1v1h-1zM73 320h1v1h-1zM88 320h1v1h-1zM92 320h2v1h-2zM110 320h1v1h-1zM115 320h1v1h-1zM120 320h1v1h-1zM57 321h1v1h-1zM72 321h1v1h-1zM88 321h1v1h-1zM92 321h2v1h-2zM110 321h1v1h-1zM116 321h1v1h-1zM119 321h1v1h-1zM57 322h1v1h-1zM72 322h1v1h-1zM88 322h1v1h-1zM91 322h1v1h-1zM94 322h1v1h-1zM110 322h1v1h-1zM116 322h1v1h-1zM119 322h1v1h-1zM57 323h1v1h-1zM72 323h1v1h-1zM89 323h1v1h-1zM91 323h1v1h-1zM94 323h1v1h-1zM110 323h1v1h-1zM116 323h1v1h-1zM119 323h1v1h-1zM57 324h1v1h-1zM72 324h1v1h-1zM89 324h1v1h-1zM91 324h1v1h-1zM94 324h1v1h-1zM110 324h1v1h-1zM116 324h1v1h-1zM119 324h1v1h-1zM57 325h1v1h-1zM72 325h1v1h-1zM89 325h2v1h-2zM94 325h1v1h-1zM110 325h1v1h-1zM116 325h1v1h-1zM119 325h1v1h-1zM57 326h1v1h-1zM72 326h1v1h-1zM89 326h2v1h-2zM94 326h1v1h-1zM109 326h1v1h-1zM116 326h1v1h-1zM119 326h1v1h-1zM57 327h1v1h-1zM72 327h1v1h-1zM89 327h1v1h-1zM94 327h1v1h-1zM109 327h1v1h-1zM117 327h1v1h-1zM119 327h1v1h-1zM57 328h1v1h-1zM72 328h1v1h-1zM89 328h1v1h-1zM94 328h1v1h-1zM109 328h1v1h-1zM117 328h1v1h-1zM119 328h1v1h-1zM57 329h1v1h-1zM72 329h1v1h-1zM95 329h1v1h-1zM109 329h1v1h-1zM117 329h1v1h-1zM119 329h1v1h-1zM57 330h1v1h-1zM72 330h1v1h-1zM95 330h1v1h-1zM109 330h1v1h-1zM117 330h2v1h-2zM57 331h1v1h-1zM72 331h1v1h-1zM95 331h1v1h-1zM109 331h1v1h-1zM117 331h2v1h-2zM57 332h1v1h-1zM72 332h1v1h-1zM95 332h1v1h-1zM109 332h1v1h-1zM118 332h1v1h-1zM57 333h1v1h-1zM72 333h1v1h-1zM95 333h1v1h-1zM108 333h1v1h-1zM118 333h1v1h-1zM57 334h1v1h-1zM71 334h1v1h-1zM95 334h1v1h-1zM108 334h1v1h-1zM118 334h1v1h-1zM58 335h1v1h-1zM71 335h1v1h-1zM96 335h1v1h-1zM108 335h1v1h-1zM58 336h1v1h-1zM71 336h1v1h-1zM96 336h1v1h-1zM108 336h1v1h-1zM58 337h1v1h-1zM71 337h1v1h-1zM96 337h1v1h-1zM108 337h1v1h-1zM58 338h1v1h-1zM70 338h1v1h-1zM96 338h1v1h-1zM100 338h1v1h-1zM108 338h1v1h-1zM58 339h1v1h-1zM70 339h1v1h-1zM96 339h1v1h-1zM100 339h1v1h-1zM108 339h1v1h-1zM58 340h1v1h-1zM70 340h1v1h-1zM96 340h1v1h-1zM99 340h2v1h-2zM108 340h1v1h-1zM58 341h1v1h-1zM70 341h1v1h-1zM96 341h1v1h-1zM99 341h1v1h-1zM101 341h1v1h-1zM107 341h1v1h-1zM58 342h1v1h-1zM69 342h1v1h-1zM96 342h1v1h-1zM99 342h1v1h-1zM101 342h1v1h-1zM107 342h1v1h-1zM58 343h1v1h-1zM69 343h1v1h-1zM97 343h1v1h-1zM99 343h1v1h-1zM101 343h1v1h-1zM107 343h1v1h-1zM58 344h1v1h-1zM69 344h1v1h-1zM97 344h2v1h-2zM101 344h1v1h-1zM107 344h1v1h-1zM58 345h1v1h-1zM69 345h1v1h-1zM97 345h2v1h-2zM101 345h1v1h-1zM107 345h1v1h-1zM58 346h1v1h-1zM69 346h1v1h-1zM97 346h2v1h-2zM101 346h1v1h-1zM107 346h1v1h-1zM58 347h1v1h-1zM68 347h1v1h-1zM97 347h1v1h-1zM102 347h1v1h-1zM106 347h1v1h-1zM58 348h1v1h-1zM68 348h1v1h-1zM97 348h1v1h-1zM102 348h1v1h-1zM106 348h1v1h-1zM58 349h1v1h-1zM68 349h1v1h-1zM102 349h1v1h-1zM106 349h1v1h-1zM58 350h1v1h-1zM68 350h1v1h-1zM102 350h1v1h-1zM106 350h1v1h-1zM58 351h1v1h-1zM68 351h1v1h-1zM102 351h1v1h-1zM106 351h1v1h-1zM59 352h1v1h-1zM68 352h1v1h-1zM102 352h1v1h-1zM105 352h1v1h-1zM59 353h1v1h-1zM68 353h1v1h-1zM103 353h1v1h-1zM105 353h1v1h-1zM59 354h1v1h-1zM68 354h1v1h-1zM103 354h1v1h-1zM105 354h1v1h-1zM59 355h1v1h-1zM67 355h1v1h-1zM103 355h1v1h-1zM105 355h1v1h-1zM59 356h1v1h-1zM67 356h1v1h-1zM103 356h1v1h-1zM105 356h1v1h-1zM59 357h1v1h-1zM67 357h1v1h-1zM103 357h1v1h-1zM105 357h1v1h-1zM59 358h1v1h-1zM67 358h1v1h-1zM103 358h1v1h-1zM105 358h1v1h-1zM59 359h1v1h-1zM67 359h1v1h-1zM104 359h1v1h-1zM59 360h1v1h-1zM67 360h1v1h-1zM104 360h1v1h-1zM59 361h1v1h-1zM67 361h1v1h-1zM104 361h1v1h-1zM59 362h1v1h-1zM67 362h1v1h-1zM104 362h1v1h-1zM59 363h1v1h-1zM67 363h1v1h-1zM59 364h1v1h-1zM67 364h1v1h-1zM59 365h1v1h-1zM67 365h1v1h-1zM59 366h1v1h-1zM67 366h1v1h-1zM59 367h1v1h-1zM67 367h1v1h-1zM59 368h1v1h-1zM66 368h1v1h-1zM59 369h1v1h-1zM66 369h1v1h-1zM59 370h1v1h-1zM66 370h1v1h-1zM60 371h1v1h-1zM66 371h1v1h-1zM60 372h1v1h-1zM66 372h1v1h-1zM60 373h1v1h-1zM66 373h1v1h-1zM60 374h1v1h-1zM66 374h1v1h-1zM60 375h1v1h-1zM66 375h1v1h-1zM60 376h1v1h-1zM66 376h1v1h-1zM60 377h1v1h-1zM66 377h1v1h-1zM60 378h1v1h-1zM66 378h1v1h-1zM60 379h1v1h-1zM66 379h1v1h-1zM60 380h1v1h-1zM66 380h1v1h-1zM60 381h1v1h-1zM66 381h1v1h-1zM60 382h1v1h-1zM65 382h1v1h-1zM60 383h1v1h-1zM65 383h1v1h-1zM60 384h1v1h-1zM65 384h1v1h-1zM60 385h1v1h-1zM65 385h1v1h-1zM60 386h1v1h-1zM65 386h1v1h-1zM60 387h1v1h-1zM65 387h1v1h-1zM60 388h1v1h-1zM65 388h1v1h-1zM61 389h1v1h-1zM65 389h1v1h-1zM61 390h1v1h-1zM65 390h1v1h-1zM61 391h1v1h-1zM65 391h1v1h-1zM61 392h1v1h-1zM65 392h1v1h-1zM61 393h1v1h-1zM65 393h1v1h-1zM61 394h1v1h-1zM65 394h1v1h-1zM61 395h1v1h-1zM65 395h1v1h-1zM61 396h1v1h-1zM64 396h1v1h-1zM61 397h1v1h-1zM64 397h1v1h-1zM61 398h1v1h-1zM64 398h1v1h-1zM62 399h1v1h-1zM64 399h1v1h-1zM63 400h2v1h-2zM63 401h2v1h-2zM64 402h1v1h-1z"/>
<path fill="#c80000" d="M47 9h11v1h-11zM57 10h1v1h-1zM57 11h1v1h-1zM57 12h1v1h-1zM57 13h1v1h-1zM57 14h1v1h-1zM57 15h1v1h-1zM57 16h1v1h-1zM57 17h1v1h-1zM58 18h1v1h-1zM58 19h1v1h-1zM58 20h1v1h-1zM58 21h1v1h-1zM58 22h1v1h-1zM58 23h1v1h-1zM58 24h1v1h-1zM58 25h1v1h-1zM58 26h1v1h-1zM58 27h1v1h-1zM75 27h1v1h-1zM58 28h1v1h-1zM75 28h1v1h-1zM58 29h1v1h-1zM75 29h1v1h-1zM58 30h1v1h-1zM75 30h1v1h-1zM58 31h1v1h-1zM75 31h2v1h-2zM58 32h1v1h-1zM75 32h2v1h-2zM58 33h1v1h-1zM75 33h2v1h-2zM58 34h1v1h-1zM75 34h2v1h-2zM58 35h1v1h-1zM75 35h2v1h-2zM59 36h1v1h-1zM75 36h2v1h-2zM59 37h1v1h-1zM74 37h1v1h-1zM76 37h1v1h-1zM59 38h1v1h-1zM74 38h1v1h-1zM76 38h1v1h-1zM59 39h1v1h-1zM74 39h1v1h-1zM77 39h1v1h-1zM59 40h1v1h-1zM74 40h1v1h-1zM77 40h1v1h-1zM59 41h1v1h-1zM74 41h1v1h-1zM77 41h1v1h-1zM59 42h1v1h-1zM74 42h1v1h-1zM77 42h1v1h-1zM59 43h1v1h-1zM74 43h1v1h-1zM77 43h1v1h-1zM82 43h1v1h-1zM59 44h1v1h-1zM74 44h1v1h-1zM77 44h1v1h-1zM82 44h1v1h-1zM59 45h1v1h-1zM74 45h1v1h-1zM77 45h1v1h-1zM82 45h1v1h-1zM59 46h1v1h-1zM74 46h1v1h-1zM77 46h1v1h-1zM81 46h2v1h-2zM59 47h1v1h-1zM74 47h1v1h-1zM78 47h1v1h-1zM81 47h2v1h-2zM59 48h1v1h-1zM74 48h1v1h-1zM78 48h1v1h-1zM81 48h2v1h-2zM59 49h1v1h-1zM74 49h1v1h-1zM78 49h1v1h-1zM81 49h1v1h-1zM83 49h1v1h-1zM59 50h1v1h-1zM74 50h1v1h-1zM78 50h1v1h-1zM81 50h1v1h-1zM83 50h1v1h-1zM59 51h1v1h-1zM74 51h1v1h-1zM78 51h1v1h-1zM81 51h1v1h-1zM83 51h1v1h-1zM59 52h1v1h-1zM74 52h1v1h-1zM78 52h1v1h-1zM80 52h1v1h-1zM83 52h1v1h-1zM60 53h1v1h-1zM74 53h1v1h-1zM78 53h1v1h-1zM80 53h1v1h-1zM83 53h1v1h-1zM60 54h1v1h-1zM74 54h1v1h-1zM78 54h1v1h-1zM80 54h1v1h-1zM83 54h1v1h-1zM60 55h1v1h-1zM74 55h1v1h-1zM79 55h2v1h-2zM83 55h1v1h-1zM60 56h1v1h-1zM73 56h1v1h-1zM79 56h2v1h-2zM83 56h1v1h-1zM60 57h1v1h-1zM73 57h1v1h-1zM79 57h1v1h-1zM83 57h1v1h-1zM60 58h1v1h-1zM73 58h1v1h-1zM79 58h1v1h-1zM83 58h1v1h-1zM60 59h1v1h-1zM73 59h1v1h-1zM79 59h1v1h-1zM83 59h1v1h-1zM60 60h1v1h-1zM73 60h1v1h-1zM83 60h1v1h-1zM60 61h1v1h-1zM73 61h1v1h-1zM84 61h1v1h-1zM60 62h1v1h-1zM73 62h1v1h-1zM84 62h1v1h-1zM60 63h1v1h-1zM73 63h1v1h-1zM84 63h1v1h-1zM161 63h1v1h-1zM60 64h1v1h-1zM73 64h1v1h-1zM84 64h1v1h-1zM161 64h1v1h-1zM60 65h1v1h-1zM73 65h1v1h-1zM84 65h1v1h-1zM161 65h1v1h-1zM60 66h1v1h-1zM73 66h1v1h-1zM84 66h1v1h-1zM161 66h2v1h-2zM60 67h1v1h-1zM73 67h1v1h-1zM84 67h1v1h-1zM161 67h2v1h-2zM60 68h1v1h-1zM73 68h1v1h-1zM84 68h1v1h-1zM160 68h1v1h-1zM162 68h1v1h-1zM60 69h1v1h-1zM73 69h1v1h-1zM84 69h1v1h-1zM160 69h1v1h-1zM162 69h1v1h-1zM61 70h1v1h-1zM73 70h1v1h-1zM84 70h1v1h-1zM160 70h1v1h-1zM162 70h1v1h-1zM61 71h1v1h-1zM73 71h1v1h-1zM84 71h1v1h-1zM160 71h1v1h-1zM162 71h1v1h-1zM61 72h1v1h-1zM73 72h1v1h-1zM84 72h1v1h-1zM160 72h1v1h-1zM162 72h1v1h-1zM61 73h1v1h-1zM73 73h1v1h-1zM85 73h1v1h-1zM160 73h1v1h-1zM162 73h1v1h-1zM61 74h1v1h-1zM72 74h1v1h-1zM85 74h1v1h-1zM159 74h1v1h-1zM162 74h1v1h-1zM61 75h1v1h-1zM72 75h1v1h-1zM85 75h1v1h-1zM159 75h1v1h-1zM163 75h1v1h-1zM61 76h1v1h-1zM72 76h1v1h-1zM85 76h1v1h-1zM159 76h1v1h-1zM163 76h1v1h-1zM61 77h1v1h-1zM72 77h1v1h-1zM85 77h1v1h-1zM159 77h1v1h-1zM163 77h1v1h-1zM61 78h1v1h-1zM72 78h1v1h-1zM85 78h1v1h-1zM158 78h1v1h-1zM163 78h1v1h-1zM61 79h1v1h-1zM72 79h1v1h-1zM85 79h1v1h-1zM158 79h1v1h-1zM163 79h1v1h-1zM61 80h1v1h-1zM72 80h1v1h-1zM85 80h1v1h-1zM158 80h1v1h-1zM163 80h1v1h-1zM61 81h1v1h-1zM72 81h1v1h-1zM85 81h1v1h-1zM158 81h1v1h-1zM163 81h1v1h-1zM61 82h1v1h-1zM72 82h1v1h-1zM85 82h1v1h-1zM158 82h1v1h-1zM163 82h1v1h-1zM61 83h1v1h-1zM71 83h2v1h-2zM85 83h1v1h-1zM157 83h1v1h-1zM163 83h1v1h-1zM61 84h1v1h-1zM69 84h2v1h-2zM85 84h1v1h-1zM157 84h1v1h-1zM163 84h1v1h-1zM61 85h1v1h-1zM68 85h1v1h-1zM86 85h1v1h-1zM157 85h1v1h-1zM163 85h1v1h-1zM61 86h1v1h-1zM68 86h1v1h-1zM86 86h1v1h-1zM157 86h1v1h-1zM163 86h1v1h-1zM61 87h1v1h-1zM68 87h1v1h-1zM86 87h1v1h-1zM157 87h1v1h-1zM163 87h1v1h-1zM62 88h1v1h-1zM68 88h1v1h-1zM86 88h1v1h-1zM157 88h1v1h-1zM163 88h1v1h-1zM62 89h1v1h-1zM67 89h1v1h-1zM86 89h1v1h-1zM156 89h1v1h-1zM164 89h1v1h-1zM62 90h1v1h-1zM67 90h1v1h-1zM86 90h1v1h-1zM156 90h1v1h-1zM164 90h1v1h-1zM62 91h1v1h-1zM67 91h1v1h-1zM86 91h1v1h-1zM156 91h1v1h-1zM164 91h1v1h-1zM62 92h1v1h-1zM67 92h1v1h-1zM86 92h1v1h-1zM156 92h1v1h-1zM164 92h1v1h-1zM62 93h1v1h-1zM67 93h1v1h-1zM86 93h1v1h-1zM155 93h1v1h-1zM164 93h1v1h-1zM62 94h1v1h-1zM67 94h1v1h-1zM86 94h1v1h-1zM155 94h1v1h-1zM164 94h1v1h-1zM62 95h1v1h-1zM67 95h1v1h-1zM86 95h1v1h-1zM155 95h1v1h-1zM164 95h1v1h-1zM62 96h1v1h-1zM67 96h1v1h-1zM86 96h1v1h-1zM154 96h1v1h-1zM164 96h1v1h-1zM62 97h1v1h-1zM67 97h1v1h-1zM87 97h1v1h-1zM154 97h1v1h-1zM164 97h1v1h-1zM62 98h1v1h-1zM67 98h1v1h-1zM87 98h1v1h-1zM154 98h1v1h-1zM164 98h1v1h-1zM62 99h1v1h-1zM67 99h1v1h-1zM87 99h1v1h-1zM154 99h1v1h-1zM165 99h1v1h-1zM62 100h1v1h-1zM67 100h1v1h-1zM87 100h1v1h-1zM153 100h1v1h-1zM165 100h1v1h-1zM62 101h1v1h-1zM67 101h1v1h-1zM87 101h1v1h-1zM153 101h1v1h-1zM165 101h1v1h-1zM62 102h1v1h-1zM67 102h1v1h-1zM87 102h1v1h-1zM153 102h1v1h-1zM165 102h1v1h-1zM62 103h1v1h-1zM67 103h1v1h-1zM87 103h1v1h-1zM153 103h1v1h-1zM166 103h1v1h-1zM62 104h1v1h-1zM67 104h1v1h-1zM87 104h1v1h-1zM153 104h1v1h-1zM166 104h1v1h-1zM63 105h1v1h-1zM67 105h1v1h-1zM87 105h1v1h-1zM153 105h1v1h-1zM166 105h1v1h-1zM63 106h1v1h-1zM67 106h1v1h-1zM87 106h1v1h-1zM152 106h1v1h-1zM166 106h1v1h-1zM63 107h1v1h-1zM67 107h1v1h-1zM87 107h1v1h-1zM152 107h1v1h-1zM167 107h1v1h-1zM63 108h1v1h-1zM67 108h1v1h-1zM87 108h1v1h-1zM152 108h1v1h-1zM167 108h1v1h-1zM63 109h1v1h-1zM66 109h1v1h-1zM88 109h1v1h-1zM129 109h1v1h-1zM152 109h1v1h-1zM167 109h1v1h-1zM63 110h1v1h-1zM66 110h1v1h-1zM88 110h1v1h-1zM129 110h2v1h-2zM152 110h1v1h-1zM167 110h1v1h-1zM63 111h1v1h-1zM66 111h1v1h-1zM88 111h1v1h-1zM129 111h2v1h-2zM151 111h1v1h-1zM168 111h1v1h-1zM63 112h1v1h-1zM66 112h1v1h-1zM88 112h1v1h-1zM129 112h1v1h-1zM131 112h1v1h-1zM151 112h1v1h-1zM168 112h1v1h-1zM63 113h1v1h-1zM66 113h1v1h-1zM88 113h1v1h-1zM128 113h1v1h-1zM131 113h1v1h-1zM151 113h1v1h-1zM168 113h1v1h-1zM63 114h1v1h-1zM66 114h1v1h-1zM88 114h1v1h-1zM128 114h1v1h-1zM132 114h1v1h-1zM151 114h1v1h-1zM168 114h1v1h-1zM63 115h1v1h-1zM66 115h1v1h-1zM88 115h1v1h-1zM128 115h1v1h-1zM132 115h1v1h-1zM151 115h1v1h-1zM169 115h1v1h-1zM63 116h1v1h-1zM66 116h1v1h-1zM88 116h1v1h-1zM128 116h1v1h-1zM132 116h1v1h-1zM150 116h1v1h-1zM169 116h1v1h-1zM63 117h1v1h-1zM66 117h1v1h-1zM88 117h1v1h-1zM128 117h1v1h-1zM133 117h1v1h-1zM150 117h1v1h-1zM169 117h1v1h-1zM63 118h1v1h-1zM66 118h1v1h-1zM88 118h1v1h-1zM128 118h1v1h-1zM133 118h1v1h-1zM150 118h1v1h-1zM169 118h1v1h-1zM63 119h1v1h-1zM66 119h1v1h-1zM88 119h1v1h-1zM128 119h1v1h-1zM133 119h1v1h-1zM150 119h1v1h-1zM169 119h1v1h-1zM63 120h1v1h-1zM65 120h1v1h-1zM88 120h1v1h-1zM127 120h1v1h-1zM133 120h1v1h-1zM149 120h1v1h-1zM169 120h1v1h-1zM63 121h1v1h-1zM65 121h1v1h-1zM89 121h1v1h-1zM127 121h1v1h-1zM134 121h1v1h-1zM149 121h1v1h-1zM169 121h1v1h-1zM63 122h1v1h-1zM65 122h1v1h-1zM89 122h1v1h-1zM127 122h1v1h-1zM134 122h1v1h-1zM149 122h1v1h-1zM170 122h1v1h-1zM64 123h2v1h-2zM89 123h1v1h-1zM93 123h1v1h-1zM127 123h1v1h-1zM134 123h1v1h-1zM149 123h1v1h-1zM170 123h1v1h-1zM64 124h2v1h-2zM89 124h1v1h-1zM92 124h2v1h-2zM127 124h1v1h-1zM134 124h1v1h-1zM148 124h1v1h-1zM170 124h1v1h-1zM64 125h2v1h-2zM89 125h1v1h-1zM91 125h1v1h-1zM93 125h1v1h-1zM127 125h1v1h-1zM135 125h1v1h-1zM148 125h1v1h-1zM170 125h1v1h-1zM64 126h2v1h-2zM89 126h2v1h-2zM93 126h1v1h-1zM127 126h1v1h-1zM135 126h1v1h-1zM148 126h1v1h-1zM170 126h1v1h-1zM64 127h2v1h-2zM89 127h1v1h-1zM94 127h1v1h-1zM126 127h1v1h-1zM135 127h1v1h-1zM148 127h1v1h-1zM170 127h1v1h-1zM64 128h2v1h-2zM94 128h1v1h-1zM126 128h1v1h-1zM135 128h1v1h-1zM147 128h1v1h-1zM170 128h1v1h-1zM64 129h1v1h-1zM94 129h1v1h-1zM126 129h1v1h-1zM136 129h1v1h-1zM147 129h1v1h-1zM170 129h1v1h-1zM64 130h1v1h-1zM94 130h1v1h-1zM126 130h1v1h-1zM136 130h1v1h-1zM147 130h1v1h-1zM170 130h1v1h-1zM64 131h1v1h-1zM94 131h1v1h-1zM126 131h1v1h-1zM136 131h1v1h-1zM146 131h1v1h-1zM170 131h1v1h-1zM94 132h1v1h-1zM126 132h1v1h-1zM137 132h1v1h-1zM146 132h1v1h-1zM170 132h1v1h-1zM94 133h1v1h-1zM126 133h1v1h-1zM137 133h1v1h-1zM146 133h1v1h-1zM170 133h1v1h-1zM95 134h1v1h-1zM125 134h1v1h-1zM137 134h1v1h-1zM145 134h1v1h-1zM170 134h1v1h-1zM95 135h1v1h-1zM125 135h1v1h-1zM137 135h1v1h-1zM145 135h1v1h-1zM170 135h1v1h-1zM95 136h1v1h-1zM125 136h1v1h-1zM138 136h1v1h-1zM144 136h1v1h-1zM170 136h1v1h-1zM95 137h1v1h-1zM125 137h1v1h-1zM138 137h1v1h-1zM144 137h1v1h-1zM170 137h1v1h-1zM217 137h2v1h-2zM95 138h1v1h-1zM125 138h1v1h-1zM138 138h1v1h-1zM144 138h1v1h-1zM170 138h1v1h-1zM215 138h2v1h-2zM219 138h2v1h-2zM95 139h1v1h-1zM125 139h1v1h-1zM138 139h1v1h-1zM143 139h1v1h-1zM170 139h1v1h-1zM175 139h1v1h-1zM211 139h4v1h-4zM221 139h1v1h-1zM95 140h1v1h-1zM124 140h1v1h-1zM138 140h1v1h-1zM143 140h1v1h-1zM171 140h1v1h-1zM174 140h2v1h-2zM211 140h1v1h-1zM221 140h1v1h-1zM95 141h1v1h-1zM124 141h1v1h-1zM138 141h1v1h-1zM143 141h1v1h-1zM171 141h1v1h-1zM173 141h1v1h-1zM176 141h1v1h-1zM210 141h1v1h-1zM222 141h1v1h-1zM95 142h1v1h-1zM124 142h1v1h-1zM139 142h1v1h-1zM142 142h1v1h-1zM171 142h2v1h-2zM176 142h1v1h-1zM210 142h1v1h-1zM222 142h1v1h-1zM95 143h1v1h-1zM123 143h1v1h-1zM139 143h1v1h-1zM142 143h1v1h-1zM171 143h1v1h-1zM176 143h1v1h-1zM209 143h1v1h-1zM222 143h1v1h-1zM96 144h1v1h-1zM123 144h1v1h-1zM139 144h1v1h-1zM141 144h1v1h-1zM176 144h1v1h-1zM208 144h1v1h-1zM223 144h1v1h-1zM96 145h1v1h-1zM122 145h1v1h-1zM139 145h1v1h-1zM141 145h1v1h-1zM177 145h1v1h-1zM208 145h1v1h-1zM223 145h1v1h-1zM96 146h1v1h-1zM122 146h1v1h-1zM139 146h2v1h-2zM177 146h1v1h-1zM207 146h1v1h-1zM223 146h1v1h-1zM96 147h1v1h-1zM114 147h1v1h-1zM121 147h1v1h-1zM139 147h1v1h-1zM177 147h1v1h-1zM205 147h2v1h-2zM224 147h1v1h-1zM96 148h1v1h-1zM112 148h3v1h-3zM121 148h1v1h-1zM177 148h1v1h-1zM203 148h2v1h-2zM224 148h1v1h-1zM96 149h1v1h-1zM111 149h1v1h-1zM114 149h1v1h-1zM121 149h1v1h-1zM177 149h1v1h-1zM201 149h2v1h-2zM224 149h1v1h-1zM96 150h1v1h-1zM111 150h1v1h-1zM115 150h1v1h-1zM121 150h1v1h-1zM177 150h1v1h-1zM200 150h1v1h-1zM225 150h1v1h-1zM96 151h1v1h-1zM99 151h1v1h-1zM111 151h1v1h-1zM115 151h1v1h-1zM121 151h1v1h-1zM177 151h1v1h-1zM193 151h1v1h-1zM199 151h1v1h-1zM225 151h1v1h-1zM96 152h1v1h-1zM99 152h1v1h-1zM110 152h1v1h-1zM115 152h1v1h-1zM121 152h1v1h-1zM178 152h1v1h-1zM192 152h1v1h-1zM194 152h1v1h-1zM199 152h1v1h-1zM226 152h1v1h-1zM97 153h2v1h-2zM100 153h1v1h-1zM110 153h1v1h-1zM115 153h1v1h-1zM121 153h1v1h-1zM178 153h1v1h-1zM186 153h1v1h-1zM192 153h1v1h-1zM195 153h1v1h-1zM198 153h1v1h-1zM226 153h1v1h-1zM97 154h2v1h-2zM100 154h1v1h-1zM110 154h1v1h-1zM115 154h1v1h-1zM120 154h1v1h-1zM178 154h1v1h-1zM186 154h2v1h-2zM191 154h1v1h-1zM195 154h1v1h-1zM197 154h1v1h-1zM227 154h1v1h-1zM97 155h1v1h-1zM100 155h1v1h-1zM110 155h1v1h-1zM115 155h1v1h-1zM120 155h1v1h-1zM178 155h1v1h-1zM185 155h1v1h-1zM188 155h1v1h-1zM190 155h1v1h-1zM196 155h1v1h-1zM227 155h1v1h-1zM231 155h2v1h-2zM100 156h1v1h-1zM110 156h1v1h-1zM116 156h1v1h-1zM120 156h1v1h-1zM178 156h1v1h-1zM185 156h1v1h-1zM188 156h1v1h-1zM190 156h1v1h-1zM228 156h3v1h-3zM233 156h2v1h-2zM101 157h1v1h-1zM109 157h1v1h-1zM116 157h1v1h-1zM120 157h1v1h-1zM178 157h1v1h-1zM185 157h1v1h-1zM189 157h1v1h-1zM228 157h1v1h-1zM235 157h2v1h-2zM101 158h1v1h-1zM109 158h1v1h-1zM116 158h1v1h-1zM120 158h1v1h-1zM178 158h1v1h-1zM184 158h1v1h-1zM237 158h1v1h-1zM101 159h1v1h-1zM109 159h1v1h-1zM116 159h1v1h-1zM120 159h1v1h-1zM178 159h1v1h-1zM184 159h1v1h-1zM237 159h1v1h-1zM101 160h1v1h-1zM109 160h1v1h-1zM116 160h1v1h-1zM120 160h1v1h-1zM178 160h1v1h-1zM184 160h1v1h-1zM238 160h1v1h-1zM101 161h1v1h-1zM108 161h1v1h-1zM116 161h1v1h-1zM120 161h1v1h-1zM179 161h1v1h-1zM184 161h1v1h-1zM238 161h1v1h-1zM102 162h1v1h-1zM108 162h1v1h-1zM117 162h1v1h-1zM120 162h1v1h-1zM179 162h1v1h-1zM183 162h1v1h-1zM239 162h1v1h-1zM102 163h1v1h-1zM108 163h1v1h-1zM117 163h1v1h-1zM119 163h1v1h-1zM179 163h1v1h-1zM183 163h1v1h-1zM239 163h1v1h-1zM527 163h2v1h-2zM102 164h1v1h-1zM108 164h1v1h-1zM117 164h1v1h-1zM119 164h1v1h-1zM179 164h1v1h-1zM183 164h1v1h-1zM240 164h1v1h-1zM525 164h2v1h-2zM529 164h2v1h-2zM102 165h1v1h-1zM107 165h1v1h-1zM117 165h1v1h-1zM119 165h1v1h-1zM179 165h1v1h-1zM183 165h1v1h-1zM241 165h1v1h-1zM457 165h1v1h-1zM467 165h9v1h-9zM517 165h8v1h-8zM531 165h2v1h-2zM102 166h1v1h-1zM107 166h1v1h-1zM117 166h1v1h-1zM119 166h1v1h-1zM180 166h3v1h-3zM241 166h1v1h-1zM455 166h2v1h-2zM458 166h2v1h-2zM465 166h2v1h-2zM476 166h2v1h-2zM515 166h2v1h-2zM533 166h2v1h-2zM102 167h1v1h-1zM107 167h1v1h-1zM117 167h1v1h-1zM119 167h1v1h-1zM182 167h1v1h-1zM242 167h1v1h-1zM453 167h2v1h-2zM460 167h5v1h-5zM478 167h1v1h-1zM499 167h16v1h-16zM535 167h12v1h-12zM570 167h1v1h-1zM577 167h1v1h-1zM584 167h2v1h-2zM103 168h1v1h-1zM106 168h1v1h-1zM118 168h2v1h-2zM242 168h1v1h-1zM451 168h2v1h-2zM479 168h2v1h-2zM497 168h2v1h-2zM547 168h1v1h-1zM568 168h2v1h-2zM571 168h2v1h-2zM575 168h2v1h-2zM578 168h2v1h-2zM582 168h2v1h-2zM586 168h2v1h-2zM103 169h1v1h-1zM106 169h1v1h-1zM118 169h1v1h-1zM243 169h15v1h-15zM346 169h1v1h-1zM356 169h2v1h-2zM363 169h1v1h-1zM385 169h12v1h-12zM442 169h9v1h-9zM481 169h16v1h-16zM548 169h1v1h-1zM553 169h5v1h-5zM563 169h5v1h-5zM573 169h2v1h-2zM580 169h2v1h-2zM588 169h2v1h-2zM103 170h1v1h-1zM106 170h1v1h-1zM118 170h1v1h-1zM258 170h1v1h-1zM344 170h2v1h-2zM347 170h2v1h-2zM354 170h2v1h-2zM358 170h2v1h-2zM361 170h2v1h-2zM364 170h2v1h-2zM383 170h2v1h-2zM397 170h2v1h-2zM440 170h2v1h-2zM549 170h1v1h-1zM551 170h2v1h-2zM558 170h2v1h-2zM561 170h2v1h-2zM590 170h1v1h-1zM103 171h1v1h-1zM106 171h1v1h-1zM118 171h1v1h-1zM259 171h1v1h-1zM264 171h1v1h-1zM274 171h2v1h-2zM281 171h21v1h-21zM338 171h6v1h-6zM349 171h5v1h-5zM360 171h1v1h-1zM366 171h17v1h-17zM399 171h5v1h-5zM424 171h16v1h-16zM550 171h1v1h-1zM560 171h1v1h-1zM591 171h2v1h-2zM103 172h1v1h-1zM105 172h1v1h-1zM260 172h1v1h-1zM262 172h2v1h-2zM265 172h2v1h-2zM272 172h2v1h-2zM276 172h2v1h-2zM279 172h2v1h-2zM302 172h1v1h-1zM336 172h2v1h-2zM404 172h2v1h-2zM422 172h2v1h-2zM593 172h1v1h-1zM103 173h1v1h-1zM105 173h1v1h-1zM261 173h1v1h-1zM267 173h5v1h-5zM278 173h1v1h-1zM303 173h2v1h-2zM310 173h2v1h-2zM317 173h1v1h-1zM328 173h8v1h-8zM406 173h16v1h-16zM594 173h2v1h-2zM602 173h6v1h-6zM104 174h2v1h-2zM305 174h1v1h-1zM308 174h2v1h-2zM312 174h2v1h-2zM316 174h1v1h-1zM318 174h2v1h-2zM326 174h2v1h-2zM596 174h2v1h-2zM600 174h2v1h-2zM608 174h2v1h-2zM104 175h2v1h-2zM306 175h2v1h-2zM314 175h2v1h-2zM320 175h6v1h-6zM598 175h2v1h-2zM610 175h8v1h-8zM638 175h2v1h-2zM781 175h5v1h-5zM104 176h1v1h-1zM618 176h2v1h-2zM636 176h2v1h-2zM640 176h2v1h-2zM779 176h2v1h-2zM786 176h1v1h-1zM104 177h1v1h-1zM620 177h9v1h-9zM634 177h2v1h-2zM642 177h1v1h-1zM734 177h6v1h-6zM749 177h1v1h-1zM770 177h9v1h-9zM787 177h1v1h-1zM888 177h1v1h-1zM895 177h1v1h-1zM913 177h1v1h-1zM919 177h6v1h-6zM934 177h6v1h-6zM945 177h1v1h-1zM629 178h2v1h-2zM632 178h2v1h-2zM643 178h2v1h-2zM732 178h2v1h-2zM740 178h2v1h-2zM747 178h2v1h-2zM750 178h2v1h-2zM768 178h2v1h-2zM787 178h1v1h-1zM886 178h2v1h-2zM889 178h2v1h-2zM893 178h2v1h-2zM896 178h2v1h-2zM911 178h2v1h-2zM914 178h2v1h-2zM917 178h2v1h-2zM925 178h2v1h-2zM932 178h2v1h-2zM940 178h2v1h-2zM943 178h2v1h-2zM631 179h1v1h-1zM645 179h9v1h-9zM674 179h1v1h-1zM681 179h1v1h-1zM688 179h9v1h-9zM702 179h30v1h-30zM742 179h5v1h-5zM752 179h16v1h-16zM788 179h1v1h-1zM806 179h1v1h-1zM884 179h2v1h-2zM891 179h2v1h-2zM898 179h2v1h-2zM906 179h5v1h-5zM916 179h1v1h-1zM927 179h5v1h-5zM942 179h1v1h-1zM654 180h2v1h-2zM672 180h2v1h-2zM675 180h2v1h-2zM679 180h2v1h-2zM682 180h2v1h-2zM686 180h2v1h-2zM697 180h2v1h-2zM700 180h2v1h-2zM789 180h2v1h-2zM804 180h2v1h-2zM807 180h1v1h-1zM882 180h2v1h-2zM900 180h2v1h-2zM904 180h2v1h-2zM656 181h16v1h-16zM677 181h2v1h-2zM684 181h2v1h-2zM699 181h1v1h-1zM791 181h13v1h-13zM808 181h1v1h-1zM816 181h2v1h-2zM824 181h1v1h-1zM838 181h6v1h-6zM859 181h8v1h-8zM877 181h5v1h-5zM902 181h2v1h-2zM809 182h1v1h-1zM814 182h2v1h-2zM818 182h2v1h-2zM822 182h2v1h-2zM825 182h2v1h-2zM837 182h1v1h-1zM844 182h2v1h-2zM857 182h2v1h-2zM867 182h2v1h-2zM875 182h2v1h-2zM810 183h4v1h-4zM820 183h2v1h-2zM827 183h5v1h-5zM837 183h1v1h-1zM846 183h11v1h-11zM869 183h6v1h-6zM832 184h2v1h-2zM836 184h1v1h-1zM834 185h2v1h-2z"/>
<path fill="#0000c8" d="M944 9h2v1h-2zM944 10h1v1h-1zM937 11h7v1h-7zM936 12h1v1h-1zM927 13h9v1h-9zM925 14h2v1h-2zM916 15h9v1h-9zM914 16h2v1h-2zM909 17h5v1h-5zM907 18h2v1h-2zM899 19h8v1h-8zM897 20h2v1h-2zM892 21h5v1h-5zM890 22h2v1h-2zM884 23h6v1h-6zM882 24h2v1h-2zM877 25h5v1h-5zM875 26h2v1h-2zM873 27h2v1h-2zM871 28h2v1h-2zM870 29h1v1h-1zM868 30h2v1h-2zM859 31h9v1h-9zM857 32h2v1h-2zM849 33h8v1h-8zM847 34h2v1h-2zM842 35h5v1h-5zM840 36h2v1h-2zM831 37h9v1h-9zM829 38h2v1h-2zM820 39h9v1h-9zM818 40h2v1h-2zM809 41h9v1h-9zM807 42h2v1h-2zM802 43h5v1h-5zM800 44h2v1h-2zM791 45h9v1h-9zM789 46h2v1h-2zM780 47h9v1h-9zM778 48h2v1h-2zM773 49h5v1h-5zM771 50h2v1h-2zM763 51h8v1h-8zM761 52h2v1h-2zM752 53h9v1h-9zM750 54h2v1h-2zM745 55h5v1h-5zM743 56h2v1h-2zM734 57h9v1h-9zM732 58h2v1h-2zM727 59h5v1h-5zM725 60h2v1h-2zM724 61h1v1h-1zM722 62h2v1h-2zM717 63h5v1h-5zM715 64h2v1h-2zM706 65h9v1h-9zM704 66h2v1h-2zM699 67h5v1h-5zM697 68h2v1h-2zM692 69h5v1h-5zM690 70h2v1h-2zM681 71h9v1h-9zM679 72h2v1h-2zM670 73h9v1h-9zM668 74h2v1h-2zM663 75h5v1h-5zM661 76h2v1h-2zM652 77h9v1h-9zM650 78h2v1h-2zM642 79h8v1h-8zM640 80h2v1h-2zM634 81h6v1h-6zM632 82h2v1h-2zM624 83h8v1h-8zM622 84h2v1h-2zM618 85h4v1h-4zM616 86h2v1h-2zM611 87h5v1h-5zM609 88h2v1h-2zM599 89h10v1h-10zM597 90h2v1h-2zM588 91h9v1h-9zM586 92h2v1h-2zM581 93h5v1h-5zM579 94h2v1h-2zM574 95h5v1h-5zM572 96h2v1h-2zM563 97h9v1h-9zM561 98h2v1h-2zM553 99h8v1h-8zM551 100h2v1h-2zM545 101h6v1h-6zM543 102h2v1h-2zM535 103h8v1h-8zM533 104h2v1h-2zM520 105h13v1h-13zM518 106h2v1h-2zM510 107h8v1h-8zM508 108h2v1h-2zM503 109h5v1h-5zM501 110h2v1h-2zM492 111h9v1h-9zM490 112h2v1h-2zM484 113h6v1h-6zM482 114h2v1h-2zM474 115h8v1h-8zM472 116h2v1h-2zM460 117h12v1h-12zM458 118h2v1h-2zM453 119h5v1h-5zM451 120h2v1h-2zM438 121h13v1h-13zM436 122h2v1h-2zM424 123h12v1h-12zM422 124h2v1h-2zM413 125h9v1h-9zM411 126h2v1h-2zM406 127h5v1h-5zM404 128h2v1h-2zM396 129h8v1h-8zM394 130h2v1h-2zM385 131h9v1h-9zM383 132h2v1h-2zM378 133h5v1h-5zM376 134h2v1h-2zM371 135h5v1h-5zM369 136h2v1h-2zM360 137h9v1h-9zM358 138h2v1h-2zM346 139h12v1h-12zM344 140h2v1h-2zM334 141h10v1h-10zM332 142h2v1h-2zM331 143h1v1h-1zM329 144h2v1h-2zM324 145h5v1h-5zM322 146h2v1h-2zM317 147h5v1h-5zM316 148h1v1h-1zM314 149h2v1h-2zM313 150h1v1h-1zM307 151h6v1h-6zM305 152h2v1h-2zM299 153h6v1h-6zM297 154h2v1h-2zM289 155h8v1h-8zM287 156h2v1h-2zM278 157h9v1h-9zM276 158h2v1h-2zM270 159h6v1h-6zM268 160h2v1h-2zM259 161h9v1h-9zM258 162h1v1h-1zM258 163h1v1h-1zM257 164h1v1h-1zM256 165h1v1h-1zM255 166h1v1h-1zM255 167h1v1h-1zM254 168h1v1h-1zM253 169h1v1h-1zM252 170h1v1h-1zM252 171h1v1h-1zM251 172h1v1h-1zM250 173h1v1h-1zM249 174h1v1h-1zM249 175h1v1h-1zM248 176h1v1h-1zM247 177h1v1h-1zM247 178h1v1h-1zM246 179h1v1h-1zM246 180h1v1h-1zM245 181h1v1h-1zM245 182h1v1h-1zM245 183h1v1h-1zM244 184h1v1h-1zM244 185h1v1h-1zM244 186h1v1h-1zM244 187h1v1h-1zM244 188h1v1h-1zM243 189h1v1h-1zM243 190h1v1h-1zM243 191h1v1h-1zM242 192h1v1h-1zM242 193h1v1h-1zM241 194h1v1h-1zM241 195h1v1h-1zM240 196h1v1h-1zM240 197h1v1h-1zM240 198h1v1h-1zM239 199h1v1h-1zM239 200h1v1h-1zM239 201h1v1h-1zM239 202h1v1h-1zM238 203h1v1h-1zM238 204h1v1h-1zM238 205h1v1h-1zM237 206h1v1h-1zM237 207h1v1h-1zM237 208h1v1h-1zM237 209h1v1h-1zM236 210h1v1h-1zM236 211h1v1h-1zM236 212h1v1h-1zM236 213h1v1h-1zM235 214h1v1h-1zM235 215h1v1h-1zM235 216h1v1h-1zM235 217h1v1h-1zM234 218h1v1h-1zM234 219h1v1h-1zM234 220h1v1h-1zM233 221h1v1h-1zM233 222h1v1h-1zM232 223h1v1h-1zM232 224h1v1h-1zM232 225h1v1h-1zM231 226h1v1h-1zM231 227h1v1h-1zM231 228h1v1h-1zM230 229h1v1h-1zM230 230h1v1h-1zM229 231h1v1h-1zM229 232h1v1h-1zM229 233h1v1h-1zM228 234h1v1h-1zM228 235h1v1h-1zM228 236h1v1h-1zM227 237h1v1h-1zM227 238h1v1h-1zM226 239h1v1h-1zM226 240h1v1h-1zM226 241h1v1h-1zM225 242h1v1h-1zM225 243h1v1h-1zM225 244h1v1h-1zM224 245h1v1h-1zM224 246h1v1h-1zM224 247h1v1h-1zM223 248h1v1h-1zM223 249h1v1h-1zM222 250h1v1h-1zM222 251h1v1h-1zM221 252h1v1h-1zM221 253h1v1h-1zM221 254h1v1h-1zM220 255h1v1h-1zM220 256h1v1h-1zM220 257h1v1h-1zM220 258h1v1h-1zM219 259h1v1h-1zM219 260h1v1h-1zM219 261h1v1h-1zM219 262h1v1h-1zM218 263h1v1h-1zM218 264h1v1h-1zM218 265h1v1h-1zM217 266h1v1h-1zM217 267h1v1h-1zM217 268h1v1h-1zM216 269h1v1h-1zM216 270h1v1h-1zM216 271h1v1h-1zM215 272h1v1h-1zM215 273h1v1h-1zM214 274h1v1h-1zM214 275h1v1h-1zM213 276h1v1h-1zM213 277h1v1h-1zM213 278h1v1h-1zM212 279h1v1h-1zM212 280h1v1h-1zM212 281h1v1h-1zM211 282h1v1h-1zM211 283h1v1h-1zM211 284h1v1h-1zM210 285h1v1h-1zM210 286h1v1h-1zM209 287h1v1h-1zM209 288h1v1h-1zM209 289h1v1h-1zM208 290h1v1h-1zM208 291h1v1h-1zM208 292h1v1h-1zM207 293h1v1h-1zM207 294h1v1h-1zM207 295h1v1h-1zM206 296h1v1h-1zM206 297h1v1h-1zM205 298h1v1h-1zM205 299h1v1h-1zM204 300h1v1h-1zM204 301h1v1h-1zM203 302h1v1h-1zM203 303h1v1h-1zM202 304h1v1h-1zM202 305h1v1h-1zM201 306h1v1h-1zM201 307h1v1h-1zM200 308h1v1h-1zM199 309h1v1h-1zM199 310h1v1h-1zM198 311h1v1h-1zM197 312h1v1h-1zM197 313h1v1h-1zM196 314h1v1h-1zM196 315h1v1h-1zM195 316h1v1h-1zM195 317h1v1h-1zM194 318h1v1h-1zM194 319h1v1h-1zM194 320h1v1h-1zM193 321h1v1h-1zM193 322h1v1h-1zM192 323h1v1h-1zM191 324h1v1h-1zM190 325h1v1h-1zM189 326h1v1h-1zM189 327h1v1h-1zM188 328h1v1h-1zM188 329h1v1h-1zM187 330h1v1h-1zM186 331h1v1h-1zM186 332h1v1h-1zM185 333h1v1h-1zM184 334h1v1h-1zM184 335h1v1h-1zM183 336h1v1h-1zM183 337h1v1h-1zM182 338h1v1h-1zM182 339h1v1h-1zM181 340h1v1h-1zM181 341h1v1h-1zM180 342h1v1h-1zM180 343h1v1h-1zM179 344h1v1h-1zM179 345h1v1h-1zM178 346h1v1h-1zM178 347h1v1h-1zM177 348h1v1h-1zM177 349h1v1h-1zM176 350h1v1h-1zM176 351h1v1h-1zM175 352h1v1h-1zM174 353h1v1h-1zM173 354h1v1h-1zM172 355h1v1h-1zM171 356h1v1h-1zM171 357h1v1h-1zM170 358h1v1h-1zM170 359h1v1h-1zM170 360h1v1h-1zM169 361h1v1h-1zM169 362h1v1h-1zM169 363h1v1h-1zM168 364h1v1h-1zM167 365h1v1h-1zM167 366h1v1h-1zM166 367h1v1h-1zM165 368h1v1h-1zM164 369h1v1h-1zM163 370h1v1h-1zM163 371h1v1h-1zM162 372h1v1h-1zM162 373h1v1h-1zM161 374h1v1h-1zM160 375h1v1h-1zM160 376h1v1h-1zM159 377h1v1h-1zM158 378h1v1h-1zM158 379h1v1h-1zM157 380h1v1h-1zM157 381h1v1h-1zM156 382h1v1h-1zM156 383h1v1h-1zM155 384h1v1h-1zM155 385h1v1h-1zM152 386h3v1h-3zM151 387h1v1h-1zM146 388h5v1h-5zM144 389h2v1h-2zM139 390h5v1h-5zM137 391h2v1h-2zM132 392h5v1h-5zM130 393h2v1h-2zM121 394h9v1h-9zM119 395h2v1h-2zM110 396h9v1h-9zM108 397h2v1h-2zM103 398h5v1h-5zM101 399h2v1h-2zM92 400h9v1h-9zM90 401h2v1h-2zM82 402h8v1h-8zM80 403h2v1h-2zM75 404h5v1h-5zM73 405h2v1h-2zM64 406h9v1h-9zM62 407h2v1h-2zM53 408h9v1h-9zM52 409h1v1h-1zM47 410h5v1h-5z"/>
</g>
</svg></body></html>
